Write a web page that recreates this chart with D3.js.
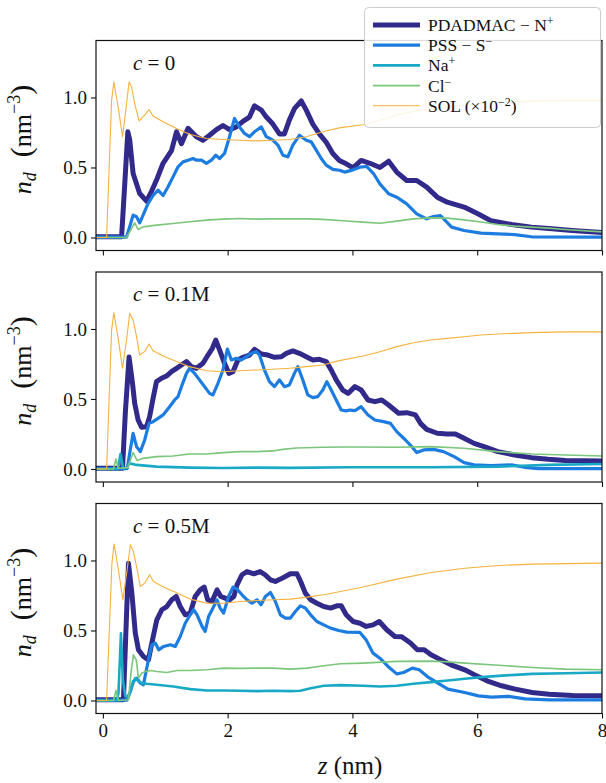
<!DOCTYPE html>
<html><head><meta charset="utf-8">
<script src="https://cdn.jsdelivr.net/npm/d3@7"></script>
<style>
body{margin:0;background:#fff}
svg{display:block}
svg text{font-family:"Liberation Serif","DejaVu Serif",serif !important;fill:#111}
</style>
</head><body>
<svg id="chart" width="606" height="783" font-family="Liberation Serif, DejaVu Serif, serif"></svg>
<script>
// ---------- data ----------
const xTicks = [0, 2, 4, 6, 8];
const yTicks = [0.0, 0.5, 1.0];
const panelLabels = ["0", "0.1M", "0.5M"];
const seriesKeys = ["pdadmac", "pss", "na", "cl", "sol"];

// c = 0
const p0_pdadmac = [[-0.11,0.005],[0.30,0.005],[0.34,0.3],[0.40,0.755],[0.43,0.7],[0.485,0.457],[0.59,0.314],[0.70,0.26],[0.78,0.33],[0.86,0.41],[0.965,0.53],[1.10,0.62],[1.18,0.755],[1.26,0.67],[1.365,0.78],[1.50,0.72],[1.605,0.695],[1.71,0.73],[1.82,0.77],[1.925,0.80],[2.03,0.77],[2.14,0.79],[2.245,0.83],[2.35,0.86],[2.43,0.94],[2.54,0.91],[2.62,0.86],[2.725,0.81],[2.83,0.74],[2.91,0.74],[2.99,0.84],[3.07,0.92],[3.18,0.975],[3.26,0.91],[3.365,0.81],[3.47,0.74],[3.58,0.68],[3.685,0.60],[3.79,0.55],[3.90,0.526],[4.01,0.498],[4.14,0.55],[4.28,0.53],[4.44,0.50],[4.58,0.545],[4.71,0.467],[4.87,0.407],[5.03,0.407],[5.19,0.36],[5.36,0.288],[5.52,0.252],[5.79,0.217],[6.01,0.169],[6.22,0.12],[6.55,0.093],[6.87,0.074],[7.2,0.062],[7.52,0.05],[8.0,0.036]];
const p0_pss = [[-0.11,0.003],[0.38,0.003],[0.43,0.076],[0.485,0.16],[0.54,0.148],[0.59,0.105],[0.645,0.16],[0.725,0.243],[0.805,0.30],[0.885,0.338],[0.965,0.30],[1.045,0.362],[1.125,0.433],[1.205,0.505],[1.285,0.54],[1.365,0.552],[1.445,0.564],[1.50,0.552],[1.58,0.552],[1.66,0.529],[1.74,0.552],[1.81,0.588],[1.87,0.564],[1.95,0.60],[2.03,0.72],[2.11,0.85],[2.19,0.79],[2.27,0.743],[2.35,0.72],[2.43,0.755],[2.54,0.79],[2.62,0.72],[2.725,0.695],[2.805,0.66],[2.885,0.588],[2.965,0.576],[3.045,0.66],[3.15,0.73],[3.26,0.695],[3.34,0.683],[3.42,0.624],[3.50,0.564],[3.58,0.517],[3.685,0.486],[3.79,0.48],[3.875,0.467],[4.01,0.483],[4.12,0.502],[4.23,0.507],[4.34,0.455],[4.44,0.383],[4.58,0.312],[4.71,0.288],[4.87,0.24],[5.03,0.169],[5.19,0.133],[5.30,0.150],[5.41,0.157],[5.49,0.12],[5.59,0.074],[5.79,0.05],[6.06,0.031],[6.33,0.026],[6.6,0.021],[6.87,0.005],[8.0,0.003]];
const p0_na = [];
const p0_cl = [[-0.11,0.0],[0.38,0.0],[0.46,0.064],[0.51,0.105],[0.565,0.057],[0.645,0.076],[0.86,0.088],[1.125,0.10],[1.39,0.112],[1.66,0.124],[1.925,0.131],[2.19,0.136],[2.46,0.131],[2.725,0.133],[2.99,0.133],[3.26,0.133],[3.525,0.129],[3.845,0.119],[4.17,0.11],[4.44,0.102],[4.71,0.117],[4.98,0.133],[5.25,0.14],[5.52,0.138],[5.79,0.126],[6.06,0.11],[6.33,0.093],[6.6,0.081],[6.87,0.074],[7.14,0.067],[7.41,0.057],[8.0,0.04]];
const p0_sol = [[-0.11,0],[0.06,0],[0.14,0.98],[0.176,1.11],[0.245,0.933],[0.315,0.719],[0.368,0.91],[0.42,1.11],[0.46,1.076],[0.51,0.957],[0.58,0.833],[0.62,0.85],[0.67,0.874],[0.74,0.914],[0.805,0.867],[0.965,0.826],[1.18,0.779],[1.39,0.738],[1.66,0.707],[1.925,0.70],[2.19,0.695],[2.46,0.69],[2.725,0.695],[2.99,0.70],[3.26,0.719],[3.525,0.755],[3.79,0.783],[4.17,0.805],[4.44,0.838],[4.71,0.874],[4.98,0.902],[5.25,0.921],[5.52,0.933],[5.79,0.945],[6.06,0.957],[6.33,0.964],[6.87,0.974],[7.41,0.979],[8.0,0.979]];

// c = 0.1M
const p1_pdadmac = [[-0.11,0.005],[0.315,0.005],[0.36,0.4],[0.42,0.80],[0.475,0.612],[0.51,0.469],[0.565,0.35],[0.62,0.298],[0.70,0.302],[0.75,0.374],[0.805,0.505],[0.86,0.624],[0.94,0.648],[1.02,0.664],[1.10,0.695],[1.18,0.719],[1.26,0.743],[1.34,0.767],[1.42,0.731],[1.50,0.719],[1.605,0.755],[1.685,0.814],[1.755,0.862],[1.81,0.921],[1.87,0.85],[1.95,0.755],[2.02,0.683],[2.085,0.695],[2.165,0.779],[2.245,0.798],[2.35,0.814],[2.43,0.855],[2.54,0.821],[2.645,0.814],[2.75,0.798],[2.86,0.802],[2.94,0.826],[3.045,0.843],[3.15,0.826],[3.26,0.802],[3.365,0.779],[3.47,0.783],[3.58,0.767],[3.66,0.707],[3.74,0.636],[3.845,0.564],[3.93,0.54],[4.04,0.588],[4.14,0.564],[4.25,0.493],[4.36,0.481],[4.47,0.493],[4.58,0.457],[4.74,0.398],[4.87,0.402],[5.01,0.386],[5.09,0.326],[5.19,0.283],[5.36,0.255],[5.52,0.25],[5.65,0.25],[5.79,0.219],[5.95,0.183],[6.11,0.160],[6.33,0.124],[6.6,0.100],[6.87,0.081],[7.14,0.069],[7.41,0.06],[8.0,0.057]];
const p1_pss = [[-0.11,0.003],[0.39,0.003],[0.43,0.112],[0.485,0.255],[0.54,0.16],[0.60,0.124],[0.67,0.207],[0.74,0.326],[0.805,0.338],[0.885,0.362],[0.965,0.386],[1.07,0.445],[1.15,0.493],[1.205,0.517],[1.26,0.588],[1.34,0.683],[1.39,0.719],[1.47,0.683],[1.55,0.636],[1.63,0.588],[1.71,0.540],[1.765,0.529],[1.845,0.612],[1.925,0.707],[1.995,0.857],[2.06,0.779],[2.14,0.79],[2.22,0.779],[2.30,0.802],[2.38,0.826],[2.46,0.838],[2.51,0.814],[2.59,0.707],[2.67,0.624],[2.75,0.588],[2.83,0.636],[2.91,0.588],[2.99,0.60],[3.07,0.683],[3.125,0.731],[3.205,0.636],[3.285,0.529],[3.365,0.51],[3.445,0.517],[3.525,0.564],[3.59,0.624],[3.66,0.564],[3.74,0.493],[3.82,0.421],[3.90,0.415],[3.96,0.421],[4.04,0.417],[4.14,0.445],[4.25,0.386],[4.36,0.35],[4.50,0.338],[4.61,0.326],[4.71,0.267],[4.85,0.207],[4.95,0.160],[5.03,0.117],[5.14,0.136],[5.30,0.14],[5.46,0.124],[5.63,0.088],[5.79,0.045],[5.95,0.029],[6.22,0.024],[6.55,0.029],[6.76,0.012],[6.98,0.002],[8.0,0.002]];
const p1_na = [[-0.11,0.0],[0.24,0.0],[0.283,0.107],[0.325,0.005],[0.38,0.01],[0.43,0.04],[0.54,0.029],[0.86,0.017],[1.39,0.01],[1.925,0.007],[2.46,0.01],[3.0,0.008],[3.95,0.012],[5.25,0.012],[6.33,0.017],[7.14,0.029],[8.0,0.036]];
const p1_cl = [[-0.11,0],[0.17,0],[0.21,0.071],[0.245,0.005],[0.40,0.01],[0.485,0.117],[0.55,0.06],[0.645,0.076],[0.86,0.088],[1.125,0.093],[1.39,0.107],[1.66,0.107],[1.925,0.117],[2.19,0.124],[2.46,0.124],[2.725,0.129],[2.885,0.14],[3.1,0.15],[3.525,0.155],[3.95,0.157],[4.71,0.155],[5.25,0.16],[5.79,0.148],[6.33,0.124],[6.87,0.107],[7.41,0.10],[8.0,0.093]];
const p1_sol = [[-0.11,0],[0.06,0],[0.14,0.993],[0.176,1.117],[0.245,0.933],[0.315,0.719],[0.38,0.921],[0.43,1.112],[0.485,1.064],[0.54,0.945],[0.59,0.814],[0.67,0.838],[0.74,0.893],[0.805,0.845],[0.965,0.807],[1.18,0.767],[1.39,0.731],[1.66,0.702],[1.925,0.695],[2.19,0.702],[2.46,0.707],[2.725,0.712],[2.99,0.719],[3.26,0.731],[3.525,0.743],[3.79,0.774],[4.17,0.807],[4.44,0.838],[4.71,0.874],[4.98,0.902],[5.25,0.921],[5.52,0.933],[5.79,0.945],[6.06,0.957],[6.33,0.964],[6.87,0.974],[7.41,0.979],[8.0,0.979]];

// c = 0.5M
const p2_pdadmac = [[-0.11,0.005],[0.33,0.005],[0.37,0.5],[0.41,0.98],[0.465,0.767],[0.52,0.481],[0.57,0.362],[0.65,0.314],[0.73,0.29],[0.785,0.41],[0.865,0.576],[0.945,0.648],[1.025,0.671],[1.105,0.719],[1.175,0.743],[1.24,0.671],[1.32,0.612],[1.40,0.624],[1.48,0.743],[1.56,0.79],[1.625,0.81],[1.68,0.719],[1.75,0.707],[1.83,0.79],[1.89,0.743],[1.96,0.731],[2.03,0.719],[2.10,0.743],[2.15,0.826],[2.23,0.898],[2.31,0.921],[2.42,0.905],[2.52,0.921],[2.60,0.898],[2.685,0.862],[2.765,0.85],[2.845,0.867],[2.925,0.886],[3.005,0.905],[3.11,0.905],[3.17,0.85],[3.245,0.767],[3.33,0.719],[3.43,0.695],[3.54,0.671],[3.65,0.66],[3.75,0.676],[3.82,0.676],[3.90,0.612],[4.01,0.564],[4.12,0.552],[4.22,0.529],[4.33,0.54],[4.43,0.564],[4.55,0.505],[4.68,0.457],[4.79,0.455],[4.93,0.41],[5.04,0.362],[5.15,0.362],[5.26,0.326],[5.42,0.29],[5.58,0.255],[5.80,0.219],[5.96,0.183],[6.18,0.136],[6.39,0.105],[6.61,0.081],[6.88,0.057],[7.15,0.045],[7.53,0.036],[8.0,0.034]];
const p2_pss = [[-0.11,0.003],[0.385,0.003],[0.44,0.064],[0.49,0.136],[0.545,0.16],[0.60,0.124],[0.65,0.112],[0.73,0.29],[0.785,0.398],[0.84,0.41],[0.895,0.362],[0.975,0.386],[1.08,0.398],[1.16,0.386],[1.24,0.457],[1.32,0.552],[1.40,0.612],[1.455,0.648],[1.51,0.612],[1.59,0.529],[1.64,0.493],[1.695,0.60],[1.765,0.66],[1.83,0.719],[1.88,0.66],[1.935,0.624],[2.015,0.743],[2.085,0.81],[2.15,0.795],[2.23,0.755],[2.31,0.719],[2.39,0.695],[2.47,0.719],[2.535,0.683],[2.605,0.743],[2.685,0.771],[2.765,0.707],[2.845,0.612],[2.925,0.588],[3.005,0.588],[3.085,0.636],[3.165,0.676],[3.245,0.66],[3.33,0.612],[3.43,0.564],[3.54,0.54],[3.65,0.517],[3.78,0.50],[3.91,0.488],[4.12,0.486],[4.22,0.433],[4.33,0.338],[4.44,0.302],[4.57,0.243],[4.71,0.19],[4.82,0.2],[4.96,0.231],[5.07,0.219],[5.20,0.171],[5.37,0.124],[5.53,0.081],[5.80,0.057],[6.02,0.033],[6.23,0.024],[6.50,0.029],[6.77,0.012],[7.15,0.005],[8.0,0.005]];
const p2_na = [[-0.11,0],[0.22,0],[0.25,0.05],[0.29,0.48],[0.32,0.148],[0.36,0.03],[0.41,0.02],[0.465,0.10],[0.52,0.16],[0.57,0.136],[0.625,0.124],[0.705,0.119],[0.865,0.112],[1.13,0.10],[1.40,0.081],[1.67,0.071],[1.935,0.071],[2.20,0.069],[2.47,0.067],[2.74,0.069],[3.005,0.067],[3.165,0.069],[3.33,0.088],[3.54,0.105],[3.81,0.11],[4.17,0.105],[4.44,0.10],[4.71,0.105],[4.98,0.119],[5.26,0.131],[5.53,0.143],[5.80,0.155],[6.07,0.167],[6.34,0.176],[6.61,0.183],[6.88,0.19],[7.42,0.195],[8.0,0.2]];
const p2_cl = [[-0.11,0],[0.17,0],[0.21,0.071],[0.25,0.0],[0.41,0.005],[0.45,0.195],[0.49,0.326],[0.535,0.29],[0.57,0.16],[0.625,0.195],[0.68,0.207],[0.76,0.214],[0.865,0.207],[1.025,0.2],[1.19,0.214],[1.40,0.214],[1.67,0.219],[1.935,0.231],[2.20,0.229],[2.47,0.231],[2.74,0.231],[3.005,0.224],[3.27,0.231],[3.54,0.248],[3.81,0.262],[4.17,0.267],[4.71,0.279],[5.26,0.281],[5.53,0.276],[5.80,0.267],[6.34,0.252],[6.88,0.236],[7.42,0.224],[8.0,0.219]];
const p2_sol = [[-0.11,0],[0.06,0],[0.145,0.98],[0.18,1.117],[0.25,0.933],[0.32,0.719],[0.385,0.921],[0.44,1.112],[0.49,1.064],[0.545,0.945],[0.60,0.814],[0.67,0.838],[0.75,0.898],[0.81,0.85],[0.97,0.81],[1.19,0.767],[1.40,0.724],[1.67,0.695],[1.935,0.695],[2.20,0.707],[2.47,0.714],[2.74,0.719],[3.005,0.724],[3.27,0.738],[3.54,0.755],[3.81,0.779],[4.17,0.81],[4.71,0.867],[5.26,0.914],[5.80,0.945],[6.34,0.964],[6.88,0.974],[8.0,0.981]];

const panels = [
  {pdadmac:p0_pdadmac, pss:p0_pss, na:p0_na, cl:p0_cl, sol:p0_sol},
  {pdadmac:p1_pdadmac, pss:p1_pss, na:p1_na, cl:p1_cl, sol:p1_sol},
  {pdadmac:p2_pdadmac, pss:p2_pss, na:p2_na, cl:p2_cl, sol:p2_sol}
];

// ---------- styles ----------
const FONT = "Liberation Serif, DejaVu Serif, serif";
const style = {
  pdadmac:{color:"#322a8a", width:5.0},
  pss:{color:"#1c7ce0", width:3.2},
  na:{color:"#19a9c6", width:2.6},
  cl:{color:"#7cc67c", width:1.6},
  sol:{color:"#f6b23c", width:1.1}
};

const svg = d3.select("#chart");
const L = 96, R = 602, H = 210;
const tops = [40.5, 272, 503.5];

const x = d3.scaleLinear().domain([-0.11, 8]).range([L, R]);
const defs = svg.append("defs");

tops.forEach((top, i) => {
  const y = d3.scaleLinear().domain([-0.093, 1.407]).range([top + H, top]);
  const g = svg.append("g");
  defs.append("clipPath").attr("id", "clip" + i)
    .append("rect").attr("x", L).attr("y", top).attr("width", R - L).attr("height", H);

  const line = d3.line().x(d => x(d[0])).y(d => y(d[1]));
  const lg = g.append("g").attr("clip-path", `url(#clip${i})`);
  seriesKeys.forEach(k => {
    const data = panels[i][k];
    if (!data.length) return;
    lg.append("path").datum(data)
      .attr("d", line)
      .attr("fill", "none")
      .attr("stroke", style[k].color)
      .attr("stroke-width", style[k].width)
      .attr("stroke-linejoin", "round")
      .attr("stroke-linecap", "butt");
  });

  // axes
  const yAxis = d3.axisLeft(y).tickValues(yTicks).tickSize(5).tickPadding(4).tickFormat(d3.format(".1f"));
  const ya = g.append("g").attr("transform", `translate(${L},0)`).call(yAxis)
    .attr("font-family", FONT).attr("font-size", 19);
  ya.select(".domain").remove();
  ya.selectAll("text").attr("fill", "#111").style("font-family", FONT).style("font-size", "19px");
  ya.selectAll("line").attr("stroke", "#111").attr("stroke-width", 1.1);

  const xAxis = d3.axisBottom(x).tickValues(xTicks).tickSize(5).tickPadding(5).tickFormat(d3.format("d"));
  const xa = g.append("g").attr("transform", `translate(0,${top + H})`).call(xAxis)
    .attr("font-family", FONT).attr("font-size", 19);
  xa.select(".domain").remove();
  xa.selectAll("line").attr("stroke", "#111").attr("stroke-width", 1.1);
  if (i < 2) xa.selectAll("text").remove();
  else xa.selectAll("text").attr("fill", "#111").style("font-family", FONT).style("font-size", "19px");

  // frame
  g.append("rect").attr("x", L).attr("y", top).attr("width", R - L).attr("height", H)
    .attr("fill", "none").attr("stroke", "#111").attr("stroke-width", 1.2);

  // panel annotation
  const t = g.append("text").attr("x", 133).attr("y", top + 29)
    .style("font-family", FONT).style("font-size", "21px");
  t.append("tspan").attr("font-style", "italic").text("c");
  t.append("tspan").text(" = " + panelLabels[i]);

  // y label
  const yl = g.append("text")
    .attr("transform", `translate(31,${top + H / 2 - 6}) rotate(-90)`)
    .attr("text-anchor", "middle").style("font-family", FONT).style("font-size", "26px");
  yl.append("tspan").attr("font-style", "italic").text("n");
  yl.append("tspan").attr("font-style", "italic").attr("dy", 5).style("font-size", "18px").text("d");
  yl.append("tspan").attr("dy", -5).style("font-size", "30px").text("\u2002(");
  yl.append("tspan").text("nm");
  yl.append("tspan").attr("dy", -11).style("font-size", "18px").text("\u22123");
  yl.append("tspan").attr("dy", 11).style("font-size", "30px").text(")");
});

// x label
const xl = svg.append("text").attr("x", 350).attr("y", 774).attr("text-anchor", "middle")
  .style("font-family", FONT).style("font-size", "25px");
xl.append("tspan").attr("font-style", "italic").text("z");
xl.append("tspan").text(" (nm)");

// legend
const leg = svg.append("g");
leg.append("rect").attr("x", 364.5).attr("y", 7.5).attr("width", 236).attr("height", 120).attr("rx", 4)
  .attr("fill", "rgba(255,255,255,0.85)").attr("stroke", "#cccccc").attr("stroke-width", 1);
const legendLabels = [
  [["PDADMAC \u2212 N", 0], ["+", 1]],
  [["PSS \u2212 S", 0], ["\u2212", 1]],
  [["Na", 0], ["+", 1]],
  [["Cl", 0], ["\u2212", 1]],
  [["SOL (\u00d710", 0], ["\u22122", 1], [")", 0]]
];
seriesKeys.forEach((k, j) => {
  const yy = 25 + j * 20.2;
  leg.append("line").attr("x1", 373).attr("x2", 420).attr("y1", yy).attr("y2", yy)
    .attr("stroke", style[k].color).attr("stroke-width", style[k].width);
  const tx = leg.append("text").attr("x", 428).attr("y", yy + 6)
    .style("font-family", FONT).style("font-size", "17.5px");
  let cur = 0;
  legendLabels[j].forEach(([s, sup]) => {
    const ts = tx.append("tspan").text(s);
    const want = sup ? -6 : 0;
    ts.attr("dy", want - cur);
    cur = want;
    if (sup) ts.style("font-size", "12px");
  });
});
</script>
</body></html>
